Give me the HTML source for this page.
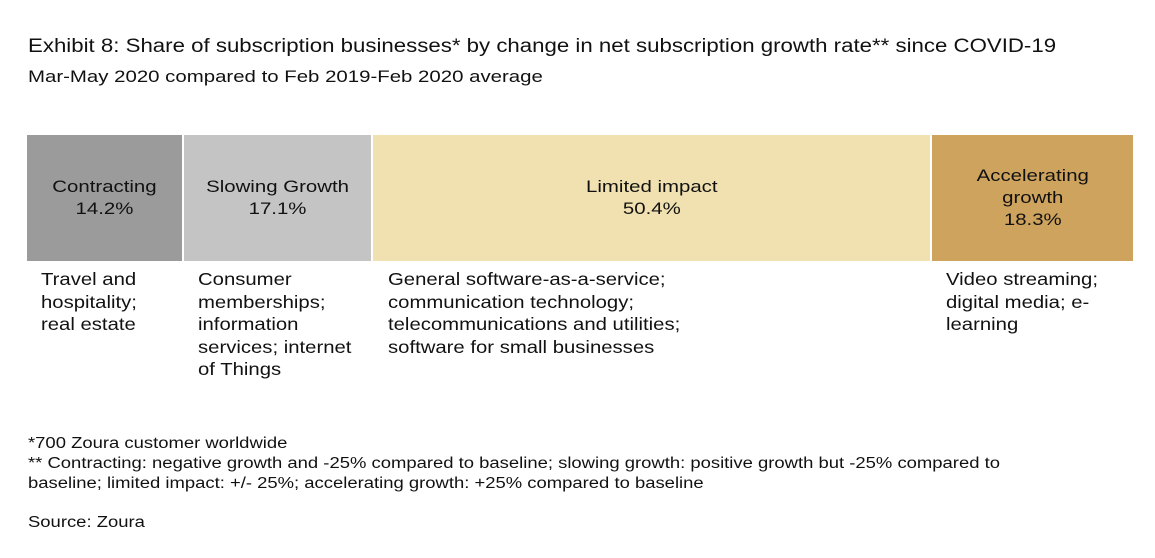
<!DOCTYPE html>
<html><head><style>
body{margin:0;width:1155px;height:558px;background:#fff;font-family:"Liberation Sans",sans-serif;color:#111;position:relative;overflow:hidden}
.a{position:absolute;white-space:nowrap;transform-origin:0 0}
.b{position:absolute;top:135px;height:126px;display:flex;align-items:center;justify-content:center;text-align:center;font-size:17px;line-height:22px}
.b span{display:inline-block;transform:scaleX(1.2);white-space:nowrap}
.t{position:absolute;top:268px;font-size:17.5px;line-height:22.5px;transform:scaleX(1.16);transform-origin:0 0;white-space:nowrap}
.f{font-size:15.5px;line-height:20px;transform:scaleX(1.19)}
</style></head><body>
<div class="a" style="left:28px;top:36px;font-size:19px;transform:scaleX(1.17)">Exhibit 8: Share of subscription businesses* by change in net subscription growth rate** since COVID-19</div>
<div class="a" style="left:28px;top:67px;font-size:17px;transform:scaleX(1.2)">Mar-May 2020 compared to Feb 2019-Feb 2020 average</div>
<div class="b" style="left:27px;width:155px;background:#9b9b9b"><span>Contracting<br>14.2%</span></div>
<div class="b" style="left:184px;width:187px;background:#c4c4c4"><span>Slowing Growth<br>17.1%</span></div>
<div class="b" style="left:373px;width:557px;background:#f1e1b0"><span>Limited impact<br>50.4%</span></div>
<div class="b" style="left:932px;width:201px;background:#cea35d"><span>Accelerating<br>growth<br>18.3%</span></div>
<div class="t" style="left:41px">Travel and<br>hospitality;<br>real estate</div>
<div class="t" style="left:198px">Consumer<br>memberships;<br>information<br>services; internet<br>of Things</div>
<div class="t" style="left:388px">General software-as-a-service;<br>communication technology;<br>telecommunications and utilities;<br>software for small businesses</div>
<div class="t" style="left:946px">Video streaming;<br>digital media; e-<br>learning</div>
<div class="a f" style="left:28px;top:434px">*700 Zoura customer worldwide<br>** Contracting: negative growth and -25% compared to baseline; slowing growth: positive growth but -25% compared to<br>baseline; limited impact: +/- 25%; accelerating growth: +25% compared to baseline</div>
<div class="a f" style="left:28px;top:513px">Source: Zoura</div>
</body></html>
